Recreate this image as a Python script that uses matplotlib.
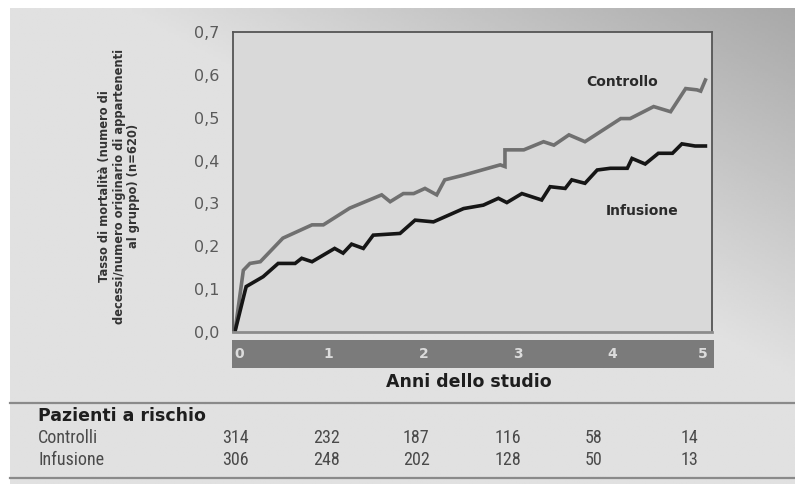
import numpy as np
import matplotlib
matplotlib.use("Agg")
import matplotlib.pyplot as plt
from matplotlib import font_manager

# anni dello studio / tasso di mortalità
ctrl_x = [0, 0.09, 0.16, 0.27, 0.51, 0.66, 0.82, 0.94, 1.22, 1.56, 1.65, 1.79, 1.90,
          2.02, 2.145, 2.23, 2.43, 2.82, 2.87, 2.87, 3.07, 3.28, 3.39, 3.55, 3.72,
          4.10, 4.20, 4.45, 4.63, 4.79, 4.91, 4.95, 5.0]
ctrl_y = [0, 0.144, 0.16, 0.164, 0.219, 0.234, 0.25, 0.25, 0.289, 0.32, 0.304, 0.323, 0.323,
          0.335, 0.32, 0.355, 0.366, 0.39, 0.386, 0.425, 0.425, 0.444, 0.436, 0.46, 0.444,
          0.498, 0.498, 0.526, 0.514, 0.568, 0.565, 0.562, 0.588]
inf_x = [0, 0.106, 0.12, 0.30, 0.46, 0.64, 0.71, 0.82, 1.06, 1.15, 1.24, 1.365, 1.47,
         1.755, 1.915, 2.11, 2.43, 2.64, 2.80, 2.89, 3.05, 3.26, 3.35, 3.51, 3.58, 3.72,
         3.85, 3.99, 4.17, 4.22, 4.36, 4.50, 4.65, 4.75, 4.89, 5.0]
inf_y = [0, 0.094, 0.106, 0.129, 0.16, 0.16, 0.172, 0.164, 0.195, 0.184, 0.205, 0.195, 0.226,
         0.23, 0.261, 0.257, 0.288, 0.296, 0.312, 0.302, 0.323, 0.308, 0.339, 0.335, 0.355, 0.347,
         0.378, 0.382, 0.382, 0.405, 0.392, 0.417, 0.417, 0.439, 0.434, 0.434]

anni = [0, 1, 2, 3, 4, 5]
yticks = [0.0, 0.1, 0.2, 0.3, 0.4, 0.5, 0.6, 0.7]
ytick_labels = ["0,0", "0,1", "0,2", "0,3", "0,4", "0,5", "0,6", "0,7"]
righe = ["Controlli", "Infusione"]
a_rischio_ctrl = [314, 232, 187, 116, 58, 14]
a_rischio_inf = [306, 248, 202, 128, 50, 13]

# font stretto per la tabella, se c'è
nomi = {f.name for f in font_manager.fontManager.ttflist}
narrow = None
for cand in ["Liberation Sans Narrow", "Roboto Condensed", "Open Sans Condensed",
             "DejaVu Sans Condensed", "Noto Sans Condensed"]:
    if cand in nomi:
        narrow = cand
        break

W, H = 795, 484
fig = plt.figure(figsize=(W / 100, H / 100), dpi=100, facecolor="white")

def fx(px):
    return px / W

def fy(py):
    return 1 - py / H

# sfondo sfumato (più scuro in alto a destra)
bg = fig.add_axes([fx(10), 0, 1 - fx(10), fy(8)])
gx, gy = np.meshgrid(np.linspace(0, 1, 300), np.linspace(0, 1, 200))
t = np.clip((gx - gy * 1.1 - 0.15) / 0.85, 0, 1)
vals = 0.88 - 0.22 * t
bg.imshow(vals, cmap="gray", vmin=0, vmax=1, aspect="auto", extent=[0, 1, 0, 1], origin="upper")
bg.axis("off")

# grafico principale
ax = fig.add_axes([fx(233), fy(332), fx(712 - 233), (332 - 32) / H])
ax.set_facecolor("#d9d9d9")
ax.plot(ctrl_x, ctrl_y, color="#707070", lw=2.6, solid_joinstyle="miter")
ax.plot(inf_x, inf_y, color="#161616", lw=2.6, solid_joinstyle="miter")
ax.set_xlim(-0.02, 5.07)
ax.set_ylim(0, 0.7)
ax.set_xticks([])
ax.set_yticks(yticks)
ax.set_yticklabels(ytick_labels, color="#5a5a5a", fontsize=11.5)
ax.tick_params(axis="y", length=0, pad=10)
for s in ["top", "left", "right"]:
    ax.spines[s].set_color("#555555")
    ax.spines[s].set_linewidth(1.3)
ax.spines["bottom"].set_color("#8c8c8c")
ax.spines["bottom"].set_linewidth(2)

ax.text(4.11, 0.584, "Controllo", ha="center", va="center", fontsize=10,
        fontweight="bold", color="#2a2a2a")
ax.text(4.33, 0.283, "Infusione", ha="center", va="center", fontsize=10,
        fontweight="bold", color="#2a2a2a")

# banda degli anni
band = fig.add_axes([fx(232), fy(368), fx(714 - 232), 28 / H])
band.set_facecolor("#7b7b7b")
band.set_xlim(-0.02, 5.07)
band.set_ylim(0, 1)
band.set_xticks([])
band.set_yticks([])
for s in band.spines.values():
    s.set_visible(False)
for i, a in enumerate(anni):
    ha = "left" if i == 0 else ("right" if i == len(anni) - 1 else "center")
    band.text(a, 0.5, str(a), ha=ha, va="center", fontsize=10, fontweight="bold",
              color="#dcdcdc")

fig.text(fx(469), fy(382), "Anni dello studio", ha="center", va="center", fontsize=12.5,
         fontweight="bold", color="#1e1e1e")

fig.text(fx(119), fy(186),
         "Tasso di mortalità (numero di\ndecessi/numero originario di appartenenti\nal gruppo) (n=620)",
         rotation=90, ha="center", va="center", fontsize=8.3, fontweight="bold",
         color="#333333", linespacing=1.15, multialignment="center")

# tabella pazienti a rischio
fig.add_artist(plt.Line2D([fx(10), 1], [fy(403), fy(403)], color="#8a8a8a", lw=1.6))
fig.add_artist(plt.Line2D([fx(10), 1], [fy(478), fy(478)], color="#8a8a8a", lw=1.6))
fig.text(fx(38), fy(416), "Pazienti a rischio", ha="left", va="center", fontsize=12.5,
         fontweight="bold", color="#1e1e1e")
if narrow:
    tab_font = dict(family=[narrow, "DejaVu Sans"], fontsize=13)
else:
    tab_font = dict(family="DejaVu Sans", fontsize=11)
col_x = [222, 313, 403, 495, 585, 681]
for r, (nome, valori) in enumerate(zip(righe, [a_rischio_ctrl, a_rischio_inf])):
    yy = fy(438 + r * 22)
    fig.text(fx(38), yy, nome, ha="left", va="center", color="#4a4a4a", **tab_font)
    for cx, v in zip(col_x, valori):
        fig.text(fx(cx), yy, str(v), ha="left", va="center", color="#4a4a4a", **tab_font)

fig.savefig("out.png", dpi=100)
